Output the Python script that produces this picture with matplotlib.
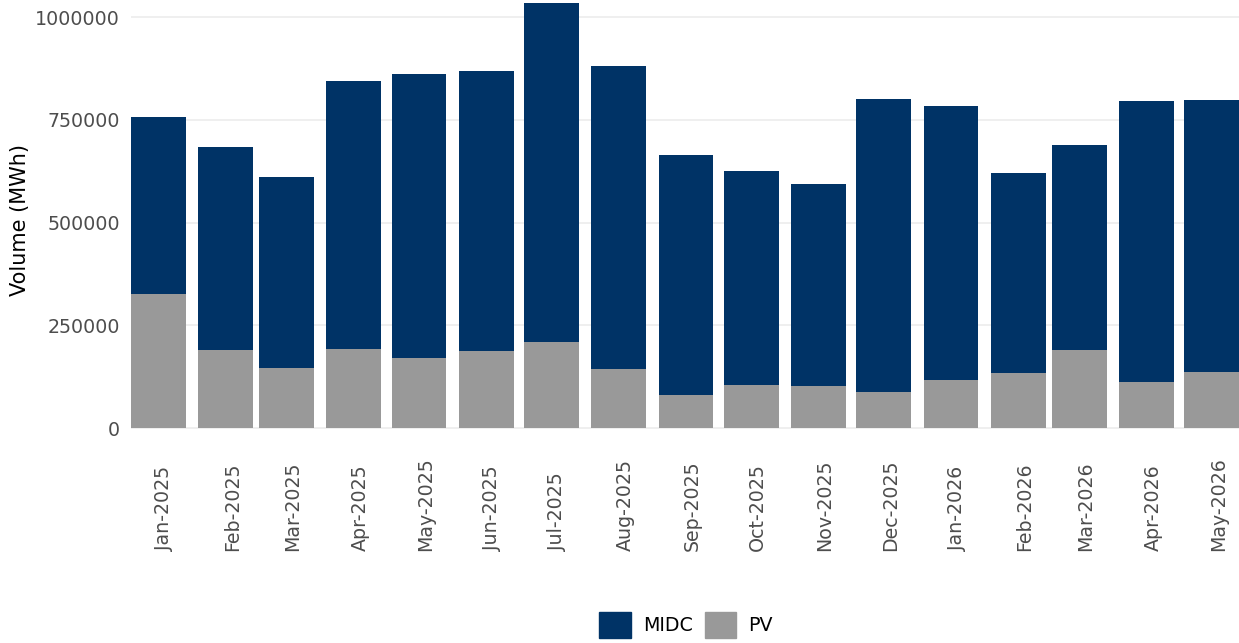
import numpy as np
import matplotlib
matplotlib.use("Agg")
import matplotlib.pyplot as plt
import matplotlib.dates as mdates
import matplotlib.transforms as mtransforms
from matplotlib.patches import Patch
import datetime as dt

# Data (MWh)
months = ["2025-01", "2025-02", "2025-03", "2025-04", "2025-05", "2025-06",
          "2025-07", "2025-08", "2025-09", "2025-10", "2025-11", "2025-12",
          "2026-01", "2026-02", "2026-03", "2026-04", "2026-05"]
pv = [326000, 190000, 146000, 192000, 170000, 187000, 209000, 144000, 80000,
      105000, 102000, 88000, 117000, 134000, 190000, 112000, 136000]
total = [757000, 684000, 611000, 844000, 861000, 869000, 1034000, 881000, 664000,
         625000, 594000, 800000, 783000, 620000, 689000, 796000, 798000]
midc = [t - p for t, p in zip(total, pv)]

navy = "#003366"
grey = "#999999"
fs = 13.7

dates = [dt.datetime.strptime(m, "%Y-%m") for m in months]
x = mdates.date2num(dates)
width = 25.2  # days

fig = plt.figure(figsize=(12.39, 6.43), dpi=100)
W, H = 1239, 643
ax = fig.add_axes([131 / W, 1 - 444.5 / H, (W - 131) / W, 444.5 / H])

ax.bar(x, pv, width=width, color=grey, label="PV", zorder=2)
ax.bar(x, midc, width=width, bottom=pv, color=navy, label="MIDC", zorder=2)

ax.set_xlim(x[0] - width / 2, x[-1] + width / 2)
ax.set_ylim(-40000, 1041400)

ax.set_yticks([0, 250000, 500000, 750000, 1000000])
ax.set_yticklabels(["0", "250000", "500000", "750000", "1000000"])
ax.grid(axis="y", color="#ebebeb", linewidth=1.1, zorder=0)
ax.set_axisbelow(True)
for s in ax.spines.values():
    s.set_visible(False)

ax.set_xticks(x)
ax.set_xticklabels([d.strftime("%b-%Y") for d in dates], rotation=90,
                   ha="center", va="bottom")
ax.tick_params(axis="x", length=0, pad=0, labelsize=fs, labelcolor="#4d4d4d")
ax.tick_params(axis="y", length=0, pad=8, labelsize=fs, labelcolor="#4d4d4d")
# labels are anchored at their start (bottom), like the reference
off = mtransforms.ScaledTranslation(6.5 / 100, -(551 - 444.5) / 100,
                                    fig.dpi_scale_trans)
for lab in ax.get_xticklabels():
    lab.set_transform(lab.get_transform() + off)

fig.text(20.5 / W, 1 - 220 / H, "Volume (MWh)", rotation=90, fontsize=15,
         ha="center", va="center", color="black")

handles = [Patch(color=navy, label="MIDC"), Patch(color=grey, label="PV")]
fig.legend(handles=handles, loc="center", bbox_to_anchor=(686 / W, 18 / H),
           ncol=2, frameon=False, fontsize=fs, handlelength=1.65,
           handleheight=1.65, handletextpad=0.64, columnspacing=0.64,
           borderpad=0)

fig.savefig("out.png", dpi=100)
